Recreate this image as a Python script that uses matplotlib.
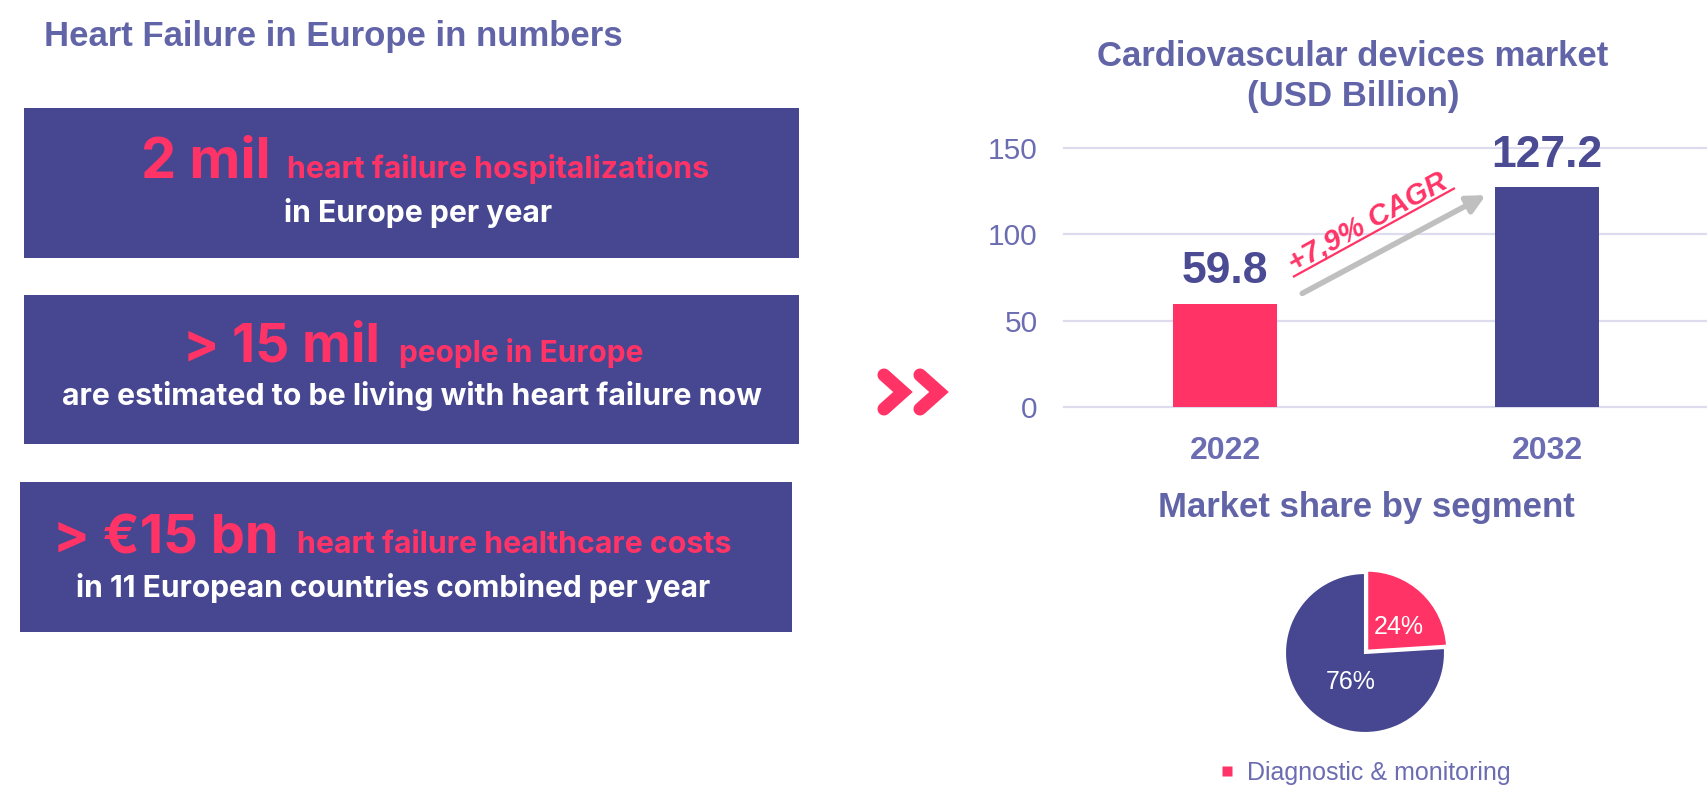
import matplotlib
matplotlib.use('Agg')
import matplotlib.pyplot as plt
from matplotlib.patches import Rectangle
from matplotlib.lines import Line2D

# ---------------- data ----------------
years = ['2022', '2032']
market_values = [59.8, 127.2]
y_ticks = [0, 50, 100, 150]
cagr_label = '+7,9% CAGR'
segment_labels = ['Diagnostic & monitoring', 'Other']
segment_shares = [24, 76]

headline = 'Heart Failure in Europe in numbers'
chart_title = ['Cardiovascular devices market', '(USD Billion)']
pie_title = 'Market share by segment'
facts_big = ['2 mil', '> 15 mil', '> €15 bn']
facts_small = ['heart failure hospitalizations', 'people in Europe',
               'heart failure healthcare costs']
facts_line2 = ['in Europe per year',
               'are estimated to be living with heart failure now',
               'in 11 European countries combined per year']

# ---------------- style ----------------
W, H = 1708, 801
PINK = '#FF3366'
NAVY = '#474791'
VALUE = '#4B4B94'
TITLE = '#6264A8'
TICK = '#6B6CB2'
GRID = '#DCDCEE'
GRAY = '#BFBFBF'
ARIAL = ['Liberation Sans', 'DejaVu Sans']
BOXF = ['Inter', 'DejaVu Sans']

fig = plt.figure(figsize=(W / 100, H / 100), dpi=100)
ov = fig.add_axes([0, 0, 1, 1])
ov.set_xlim(0, W)
ov.set_ylim(H, 0)
ov.axis('off')
renderer = fig.canvas.get_renderer()

ov.text(44, 46, headline, fontsize=25, weight='bold', color=TITLE,
        family=ARIAL, ha='left', va='baseline')

# boxes: (x, y, w, h)
boxes = [(24, 108, 775, 150), (24, 295, 775, 149), (20, 482, 772, 150)]
# layout of texts in each box: big (x0,x1,base), small (x0,x1), line2 (x0,x1,base)
big_pos = [(141, 271, 178), (183, 380, 362), (53, 279, 553)]
small_pos = [(287, 711), (399, 644), (297, 733)]
line2_pos = [(284, 553, 222), (62, 764, 405), (76, 712, 597)]


def fit_text(s, x0, x1, base, color):
    t = ov.text(x0, base, s, fontsize=20, color=color, family=BOXF,
                weight='bold', ha='left', va='baseline')
    bb = t.get_window_extent(renderer)
    t.set_fontsize(20 * (x1 - x0) / bb.width)
    return t


for i, (x, y, w, h) in enumerate(boxes):
    ov.add_patch(Rectangle((x, y), w, h, facecolor=NAVY, edgecolor='none'))
    bx0, bx1, bb = big_pos[i]
    fit_text(facts_big[i], bx0, bx1, bb, PINK)
    sx0, sx1 = small_pos[i]
    fit_text(facts_small[i], sx0, sx1, bb, PINK)
    lx0, lx1, lb = line2_pos[i]
    fit_text(facts_line2[i], lx0, lx1, lb, 'white')

# chevrons
for dx in (0, 36):
    ov.plot([884 + dx, 903 + dx, 884 + dx], [375, 392, 409], color=PINK,
            lw=9.4, solid_capstyle='round', solid_joinstyle='miter')

# chart titles
ov.text(1353, 66, chart_title[0], fontsize=25, weight='bold', color=TITLE,
        family=ARIAL, ha='center', va='baseline')
ov.text(1353, 106, chart_title[1], fontsize=25, weight='bold', color=TITLE,
        family=ARIAL, ha='center', va='baseline')
ov.text(1366, 517, pie_title, fontsize=25, weight='bold', color=TITLE,
        family=ARIAL, ha='center', va='baseline')

# ---------------- bar chart ----------------
ax = fig.add_axes([1064 / W, 1 - 407 / H, (W - 1064) / W, (407 - 148) / H])
xs = list(range(len(years)))
ax.bar(xs, market_values, width=0.32, color=[PINK, NAVY], zorder=3)
ax.set_xlim(-0.5, 1.5)
ax.set_ylim(0, 150)
ax.set_yticks(y_ticks)
ax.set_xticks(xs, years)
ax.grid(axis='y', color=GRID, lw=1.6, zorder=0)
ax.grid(axis='x', visible=False)
ax.set_axisbelow(True)
for l in ax.get_ygridlines():
    l.set_clip_on(False)
for s in ax.spines.values():
    s.set_visible(False)
ax.patch.set_alpha(0)
ax.tick_params(length=0)
ax.tick_params(axis='y', pad=19, labelsize=21.5, labelcolor=TICK)
ax.tick_params(axis='x', pad=21, labelsize=23, labelcolor=TICK)
for lab in ax.get_yticklabels() + ax.get_xticklabels():
    lab.set_family(ARIAL)
for lab in ax.get_xticklabels():
    lab.set_fontweight('bold')

for i, v in enumerate(market_values):
    ax.annotate(f'{v}', (xs[i], v), xytext=(0, 15), textcoords='offset points',
                ha='center', va='baseline', fontsize=32, weight='bold',
                color=VALUE, family=ARIAL)

# CAGR arrow + underlined label
ax.annotate('', xy=(0.81, market_values[1] - 4.5), xytext=(0.24, market_values[0] + 6),
            arrowprops=dict(arrowstyle='-|>', color=GRAY, lw=4, mutation_scale=27,
                            shrinkA=0, shrinkB=0), annotation_clip=False)
ax.text(0.4565, 103.1, cagr_label, rotation=28.8, rotation_mode='anchor',
        ha='center', va='baseline', fontsize=21, style='italic', weight='bold',
        color=PINK, family=ARIAL, clip_on=False)
ax.plot([0.211, 0.714], [75.3, 126.8], color=PINK, lw=1.6, clip_on=False,
        solid_capstyle='butt')

# ---------------- pie ----------------
pax = fig.add_axes([(1365 - 100) / W, 1 - (653 + 100) / H, 200 / W, 200 / H])
wedges, texts, autotexts = pax.pie(
    segment_shares, colors=[PINK, NAVY], startangle=90, counterclock=False,
    explode=[0.04, 0], autopct='%d%%', pctdistance=0.55,
    wedgeprops=dict(edgecolor='white', linewidth=1.5),
    textprops=dict(color='white', fontsize=18, family=ARIAL))
autotexts[0].set_position((0.42, 0.32))
autotexts[1].set_position((-0.18, -0.36))

handle = Line2D([0], [0], marker='s', color='none', markerfacecolor=PINK,
                markeredgecolor='none', markersize=7)
fig.legend(handles=[handle], labels=[segment_labels[0]], loc='center left',
           bbox_to_anchor=(1216 / W, 1 - 773 / H), frameon=False,
           prop={'family': ARIAL, 'size': 18}, labelcolor=TICK,
           handlelength=0.9, handletextpad=0.35, borderpad=0, borderaxespad=0)

fig.savefig('out.png', dpi=100)
